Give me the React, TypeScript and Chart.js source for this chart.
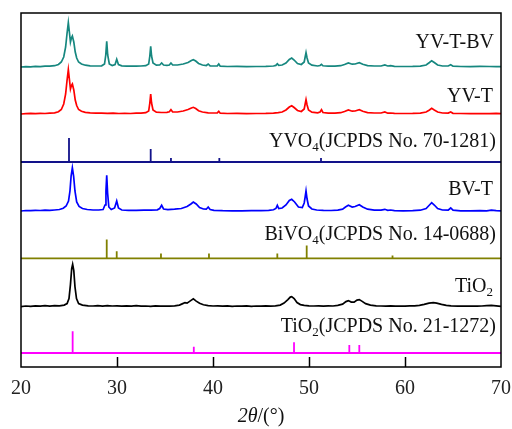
import { useEffect, useRef } from "react";
import { Chart, registerables } from "chart.js";

Chart.register(...registerables);

// ---- data ----
const xTickValues = [20, 30, 40, 50, 60, 70];
const innerTickValues = [30, 40, 50, 60];

// vertical offsets of each trace (stacked display)
const traceOffsets = [300, 253, 205, 156, 108.7, 60.4, 14];
const traceColors = ["#16877f", "#ff0000", "#12128a", "#0000ff", "#808000", "#000000", "#ff00ff"];
const traceIsStick = [false, false, true, false, true, false, true];

// [2θ, intensity]
const yvtbvPattern: [number, number][] = [
  [20, 0], [20.5, 0.4], [21, 0.2], [21.5, 0.6], [22, 0.4], [22.5, 0.8], [23, 0.9], [23.5, 1.3], [23.9, 2.5],
  [24.2, 5], [24.45, 10], [24.65, 20], [24.8, 34], [24.93, 44.4], [25.05, 34], [25.15, 25], [25.25, 29],
  [25.35, 31], [25.5, 25], [25.65, 15], [25.8, 9], [26.0, 5], [26.3, 3], [26.7, 1.8], [27.2, 1.2], [27.8, 1.0],
  [28.4, 1.2], [28.7, 3], [28.83, 12], [28.93, 25.7], [29.03, 12], [29.2, 3], [29.5, 1.5], [29.8, 2.5],
  [29.97, 7.7], [30.15, 2.5], [30.5, 1.2], [31.0, 0.8], [31.5, 0.8], [32.0, 0.9], [32.5, 1], [33.0, 1.3],
  [33.3, 3], [33.42, 11], [33.51, 20.7], [33.6, 11], [33.75, 4], [34.1, 1.8], [34.45, 2], [34.65, 4],
  [34.85, 2], [35.2, 1.6], [35.45, 2], [35.62, 4], [35.8, 2], [36.3, 2], [36.9, 3], [37.4, 4.5], [37.75, 6.5],
  [37.95, 7.3], [38.2, 6], [38.5, 3.5], [38.9, 2], [39.3, 1.5], [39.5, 3], [39.7, 1.2], [40.1, 1],
  [40.45, 1.2], [40.6, 3], [40.75, 0.8], [41.5, 0.5], [42.5, 0.6], [43.5, 0.4], [44.5, 0.5], [45.5, 0.6],
  [46.3, 1], [46.55, 1.6], [46.7, 3.3], [46.85, 1.6], [47.2, 2], [47.6, 4], [47.95, 7.5], [48.2, 9],
  [48.45, 7], [48.8, 3.5], [49.2, 2.5], [49.5, 5], [49.6, 10], [49.69, 14.3], [49.8, 9], [49.95, 4],
  [50.3, 1.8], [50.9, 1], [51.15, 1.5], [51.3, 2.7], [51.45, 1.2], [52.0, 0.8], [52.7, 0.9], [53.3, 1.3],
  [53.7, 2.5], [54.1, 4], [54.5, 2.8], [54.8, 3], [55.24, 4.3], [55.6, 2.8], [56.1, 1.4], [56.8, 1],
  [57.5, 1], [57.9, 2], [58.2, 1], [58.5, 1.3], [58.9, 0.6], [59.8, 0.5], [60.8, 0.6], [61.6, 0.9],
  [62.2, 2], [62.55, 4.5], [62.78, 6.3], [63.05, 4.5], [63.4, 2], [63.9, 1], [64.5, 1], [64.76, 2.3],
  [65.0, 0.8], [65.8, 0.5], [66.8, 0.4], [67.8, 0.6], [68.8, 0.5], [69.5, 0.3], [70, 0.4],
];

const yvtPattern: [number, number][] = [
  [20, 0], [20.5, 0.3], [21, 0.6], [21.5, 0.3], [22, 0.7], [22.5, 0.5], [23, 0.9], [23.5, 1.2], [23.9, 2.3],
  [24.2, 4.5], [24.45, 10], [24.65, 20], [24.8, 34], [24.93, 44.4], [25.05, 34], [25.15, 25], [25.25, 28.5],
  [25.35, 30], [25.5, 24], [25.65, 14], [25.8, 8.5], [26.0, 4.5], [26.3, 2.8], [26.7, 1.7], [27.2, 1.1],
  [27.8, 0.8], [28.4, 0.9], [29, 0.6], [29.6, 0.8], [30.2, 0.5], [30.8, 0.7], [31.4, 0.5], [32, 0.8],
  [32.5, 0.9], [33, 1.3], [33.3, 3], [33.42, 11], [33.51, 20], [33.6, 11], [33.75, 4], [34.1, 1.8],
  [34.6, 1.5], [35.2, 1.6], [35.45, 2.2], [35.62, 4.3], [35.8, 2], [36.3, 2], [36.9, 3], [37.4, 4.5],
  [37.75, 6], [37.95, 6.7], [38.2, 5.5], [38.5, 3.3], [38.9, 2], [39.5, 1.2], [40.1, 1], [40.45, 1.2],
  [40.6, 2.7], [40.75, 0.8], [41.5, 0.5], [42.5, 0.6], [43.5, 0.4], [44.5, 0.5], [45.5, 0.6], [46.3, 0.9],
  [46.8, 1.3], [47.2, 2], [47.6, 4], [47.95, 7], [48.2, 8.3], [48.45, 6.5], [48.8, 3.5], [49.2, 2.5],
  [49.5, 5], [49.6, 10], [49.69, 14.3], [49.8, 9], [49.95, 4], [50.3, 1.8], [50.9, 1.2], [51.15, 2],
  [51.3, 4.3], [51.45, 1.5], [52.0, 0.8], [52.7, 0.9], [53.3, 1.3], [53.7, 2.5], [54.1, 4], [54.5, 2.8],
  [54.8, 3], [55.24, 4.3], [55.6, 2.8], [56.1, 1.4], [56.8, 1], [57.5, 1], [57.9, 2], [58.2, 0.8],
  [58.5, 1], [58.9, 0.6], [59.8, 0.5], [60.8, 0.6], [61.6, 0.9], [62.2, 2], [62.55, 4], [62.78, 5.7],
  [63.05, 4], [63.4, 2], [63.9, 1], [64.5, 0.9], [64.76, 2], [65.0, 0.7], [65.8, 0.5], [66.8, 0.3],
  [67.8, 0.5], [68.8, 0.4], [69.5, 0.6], [70, 0.3],
];

// reference stick positions [2θ, height]
const yvo4Sticks: [number, number][] = [[25.0, 24], [33.51, 13], [35.62, 4], [40.66, 4], [51.25, 4]];

const bvtPattern: [number, number][] = [
  [20, 0], [20.5, 0.5], [21, 0.3], [21.5, 0.7], [22, 0.5], [22.5, 0.8], [23, 0.6], [23.5, 1], [24, 1.5],
  [24.4, 2.8], [24.7, 5], [24.95, 10], [25.1, 20], [25.22, 35], [25.35, 43.3], [25.48, 35], [25.62, 20],
  [25.8, 9], [26.05, 4.5], [26.4, 2.5], [26.9, 1.5], [27.5, 1], [28.1, 1], [28.55, 1.5], [28.75, 6],
  [28.85, 20], [28.93, 35.7], [29.02, 18], [29.15, 4], [29.4, 1.5], [29.75, 3], [29.97, 10], [30.15, 3],
  [30.5, 1], [31.2, 0.7], [32, 0.6], [32.8, 0.8], [33.5, 0.9], [34.2, 1.2], [34.45, 2.5], [34.65, 5.7],
  [34.85, 2], [35.3, 1.3], [36, 1.8], [36.7, 2.5], [37.3, 4.5], [37.7, 7], [37.95, 9], [38.25, 7],
  [38.6, 3.5], [39.0, 2], [39.3, 1.8], [39.5, 4], [39.7, 1.5], [40.1, 0.6], [41, 0.3], [42, 0.2], [43, 0.2],
  [44, 0.3], [45, 0.3], [45.8, 0.6], [46.3, 1.2], [46.55, 2.5], [46.7, 5.7], [46.85, 2.5], [47.2, 3],
  [47.6, 6], [47.95, 10.5], [48.2, 11.7], [48.5, 9], [48.9, 4], [49.3, 3.5], [49.5, 8], [49.6, 14],
  [49.69, 20], [49.8, 12], [49.95, 5], [50.3, 2], [50.8, 1], [51.5, 0.6], [52.3, 0.5], [53, 0.8],
  [53.5, 1.8], [53.8, 4], [54.1, 5.7], [54.5, 4], [54.8, 4.5], [55.24, 6.3], [55.6, 4], [56.1, 1.8],
  [56.8, 0.8], [57.5, 0.8], [57.9, 1.7], [58.2, 0.7], [58.5, 1], [58.9, 0.4], [59.8, 0.2], [60.8, 0.3],
  [61.6, 0.8], [62.2, 2.5], [62.55, 6], [62.78, 8.3], [63.05, 6], [63.4, 2.5], [63.9, 1], [64.5, 0.8],
  [64.76, 3], [65.0, 0.8], [65.8, 0.2], [66.8, 0.1], [67.8, 0.3], [68.5, 0.2], [69, 0.8], [69.5, 0.3],
  [70, 0.2],
];

const bivo4Sticks: [number, number][] = [
  [28.93, 18.7], [29.97, 7], [34.58, 4.7], [39.58, 4.7], [46.7, 4.7], [49.76, 12.7], [58.7, 2.7],
];

const tio2Pattern: [number, number][] = [
  [20, 0], [20.5, 0.6], [21, 0.3], [21.5, 0.8], [22, 0.4], [22.5, 0.9], [23, 0.5], [23.5, 1], [24, 0.8],
  [24.5, 1.5], [24.8, 3], [25.0, 8], [25.15, 22], [25.28, 38], [25.38, 42.3], [25.5, 36], [25.62, 20],
  [25.78, 8], [26.0, 3], [26.4, 1.5], [27, 0.8], [27.5, 0.6], [28, 0.9], [28.5, 0.5], [29, 1], [29.5, 0.6],
  [30, 0.8], [30.5, 0.4], [31, 0.7], [31.5, 0.5], [32, 0.9], [32.5, 0.4], [33, 0.6], [33.5, 0.3], [34, 0.7],
  [34.5, 0.4], [35, 0.6], [35.5, 0.5], [36, 0.8], [36.5, 1.5], [36.85, 3], [37.08, 4], [37.3, 3.5],
  [37.6, 5.5], [37.95, 7.7], [38.25, 5.5], [38.6, 3.3], [39, 1.8], [39.5, 1], [40, 0.6], [40.5, 0.8],
  [41, 0.4], [41.5, 0.7], [42, 0.3], [42.5, 0.6], [43, 0.4], [43.5, 0.7], [44, 0.3], [44.5, 0.6], [45, 0.4],
  [45.5, 0.7], [46, 0.5], [46.5, 0.8], [47, 1.5], [47.4, 3.5], [47.8, 7], [48.05, 9.5], [48.2, 10],
  [48.45, 8], [48.75, 4], [49.1, 2], [49.5, 1.2], [50, 0.8], [50.5, 0.6], [51, 0.8], [51.5, 0.5], [52, 0.7],
  [52.5, 0.6], [53, 1.2], [53.5, 2.5], [53.85, 5], [54.1, 6], [54.4, 4.5], [54.7, 4.5], [55, 6.5],
  [55.24, 7], [55.5, 5.5], [55.9, 3], [56.4, 1.5], [57, 0.8], [57.5, 0.6], [58, 0.5], [58.5, 0.8], [59, 0.4],
  [59.5, 0.6], [60, 0.5], [60.5, 0.7], [61, 0.8], [61.5, 1.3], [62, 2.3], [62.5, 3.5], [62.95, 4],
  [63.3, 3.5], [63.8, 2.2], [64.3, 1.2], [64.8, 0.8], [65.5, 0.5], [66, 0.6], [66.5, 0.4], [67, 0.6],
  [67.5, 0.5], [68, 0.6], [68.5, 1], [69, 1.3], [69.5, 0.8], [70, 0.3],
];

const tio2Sticks: [number, number][] = [[25.38, 21.7], [38.0, 6.3], [48.44, 10.7], [54.2, 8], [55.24, 8]];

const traceData = [yvtbvPattern, yvtPattern, yvo4Sticks, bvtPattern, bivo4Sticks, tio2Pattern, tio2Sticks];

// label text parts: [text, isSubscript]
const traceLabels: [string, boolean][][] = [
  [["YV-T-BV", false]],
  [["YV-T", false]],
  [["YVO", false], ["4", true], ["(JCPDS No. 70-1281)", false]],
  [["BV-T", false]],
  [["BiVO", false], ["4", true], ["(JCPDS No. 14-0688)", false]],
  [["TiO", false], ["2", true]],
  [["TiO", false], ["2", true], ["(JCPDS No. 21-1272)", false]],
];

const X_MIN = 20;
const X_MAX = 70;

// ---- layout / style constants ----
const FONT_FAMILY = "'Liberation Serif', 'Times New Roman', serif";
const LABEL_RISE = [19.4, 11.7, 15.4, 16.4, 18, 14.3, 21];
const LABEL_RIGHT_INSET = [7, 8, 5, 8, 5, 8, 5];

function buildStickPoints(sticks: [number, number][]) {
  const pts: { x: number; y: number }[] = [{ x: X_MIN, y: 0 }];
  sticks.forEach(([x, h]) => {
    pts.push({ x, y: 0 }, { x, y: h }, { x, y: 0 });
  });
  pts.push({ x: X_MAX, y: 0 });
  return pts;
}

const framePlugin = {
  id: "frameAndText",
  afterDatasetsDraw(chart: any) {
    const { ctx, chartArea, scales } = chart;
    const xs = scales.x;
    const ys = scales.y;
    ctx.save();
    // frame
    ctx.strokeStyle = "#000";
    ctx.lineWidth = 1.5;
    ctx.strokeRect(chartArea.left, chartArea.top, chartArea.right - chartArea.left, chartArea.bottom - chartArea.top);
    // inward ticks
    innerTickValues.forEach((v) => {
      const px = Math.round(xs.getPixelForValue(v)) + 0.5;
      ctx.beginPath();
      ctx.moveTo(px, chartArea.bottom);
      ctx.lineTo(px, chartArea.bottom - 10);
      ctx.stroke();
    });
    // trace labels
    ctx.fillStyle = "#111";
    ctx.textBaseline = "alphabetic";
    ctx.textAlign = "left";
    const mainFont = `20px ${FONT_FAMILY}`;
    const subFont = `13px ${FONT_FAMILY}`;
    traceLabels.forEach((parts, i) => {
      const baseY = ys.getPixelForValue(traceOffsets[i] + LABEL_RISE[i]);
      let w = 0;
      parts.forEach(([t, sub]) => {
        ctx.font = sub ? subFont : mainFont;
        w += ctx.measureText(t).width;
      });
      let x = chartArea.right - LABEL_RIGHT_INSET[i] - w;
      parts.forEach(([t, sub]) => {
        ctx.font = sub ? subFont : mainFont;
        ctx.fillText(t, x, baseY + (sub ? 4 : 0));
        x += ctx.measureText(t).width;
      });
    });
    // axis title: 2θ/(°)
    const italicFont = `italic 20px ${FONT_FAMILY}`;
    ctx.font = italicFont;
    const w1 = ctx.measureText("2θ").width;
    ctx.font = mainFont;
    const w2 = ctx.measureText("/(°)").width;
    const cx = (chartArea.left + chartArea.right) / 2;
    const ty = chartArea.bottom + 55;
    let tx = cx - (w1 + w2) / 2;
    ctx.font = italicFont;
    ctx.fillText("2θ", tx, ty);
    tx += w1;
    ctx.font = mainFont;
    ctx.fillText("/(°)", tx, ty);
    ctx.restore();
  },
};

export default function App() {
  const canvasRef = useRef<HTMLCanvasElement>(null);

  useEffect(() => {
    document.body.style.margin = "0";
    const canvas = canvasRef.current;
    if (!canvas) return;
    const datasets = traceData.map((pattern, i) => {
      const pts = traceIsStick[i]
        ? buildStickPoints(pattern)
        : pattern.map(([x, h]) => ({ x, y: h }));
      return {
        label: `trace${i}`,
        data: pts.map((p) => ({ x: p.x, y: p.y + traceOffsets[i] })),
        borderColor: traceColors[i],
        backgroundColor: traceColors[i],
        borderWidth: traceIsStick[i] ? 1.8 : 1.7,
        pointRadius: 0,
        tension: 0,
        fill: false,
      };
    });

    const chart = new Chart(canvas, {
      type: "line",
      data: { datasets },
      options: {
        animation: false,
        responsive: false,
        maintainAspectRatio: false,
        layout: { padding: { left: 21, right: 11, top: 13, bottom: 0 } },
        plugins: { legend: { display: false }, tooltip: { enabled: false } },
        scales: {
          x: {
            type: "linear",
            min: X_MIN,
            max: X_MAX,
            afterBuildTicks: (scale: any) => {
              scale.ticks = xTickValues.map((v) => ({ value: v }));
            },
            afterFit: (scale: any) => {
              scale.height = 62;
              scale.paddingLeft = 0;
              scale.paddingRight = 0;
            },
            grid: { display: false, drawTicks: false },
            border: { display: false },
            ticks: {
              padding: 10,
              color: "#222",
              font: { family: FONT_FAMILY, size: 20 },
              maxRotation: 0,
              autoSkip: false,
            },
          },
          y: {
            type: "linear",
            display: false,
            min: 0,
            max: 354,
          },
        },
      },
      plugins: [framePlugin],
    });
    return () => chart.destroy();
  }, []);

  return (
    <div style={{ position: "fixed", left: 0, top: 0, width: 512, height: 429, background: "#fff" }}>
      <canvas ref={canvasRef} width={512} height={429} style={{ width: 512, height: 429, display: "block" }} />
    </div>
  );
}
